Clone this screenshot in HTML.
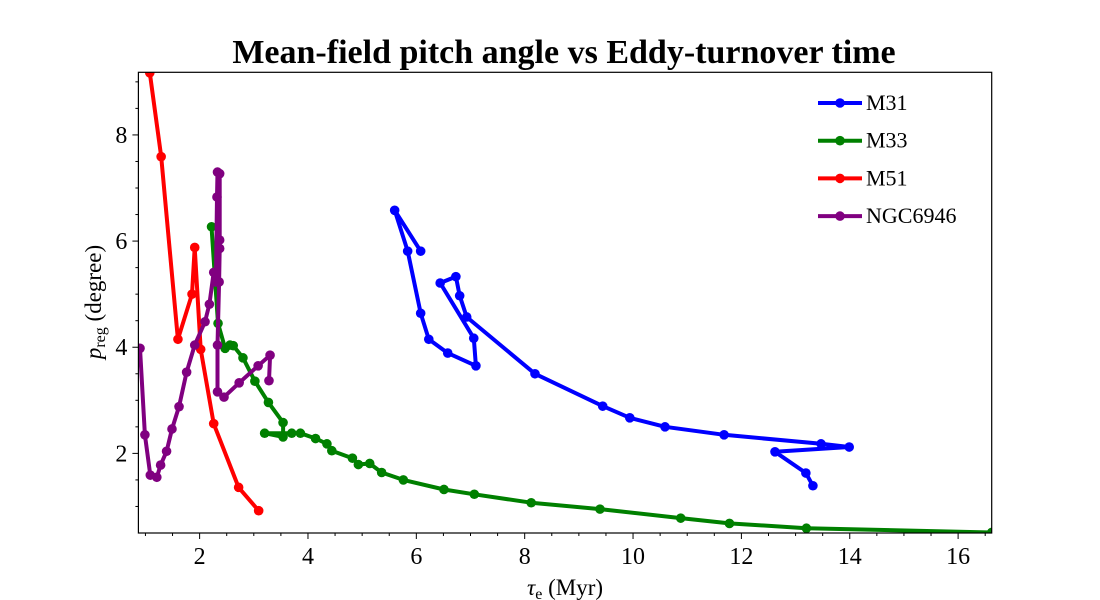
<!DOCTYPE html>
<html><head><meta charset="utf-8"><style>
html,body{margin:0;padding:0;background:#fff;}
svg{display:block;font-family:"Liberation Serif",serif;}
</style></head><body>
<svg id="chart" width="1100" height="600">
<text x="564" y="63" text-anchor="middle" font-size="34" font-weight="bold">Mean-field pitch angle vs Eddy-turnover time</text>
<g id="plot"></g>
<g id="axes"></g>
<text x="565" y="595" text-anchor="middle" font-size="23"><tspan font-style="italic">τ</tspan><tspan font-size="16" dy="4">e</tspan><tspan dy="-4"> (Myr)</tspan></text>
<text transform="translate(101,302) rotate(-90)" text-anchor="middle" font-size="23"><tspan font-style="italic">p</tspan><tspan font-size="16" dy="4">reg</tspan><tspan dy="-4"> (degree)</tspan></text>
<g id="legend"></g>
</svg>
<script>
const xTicks=[2,4,6,8,10,12,14,16];
const yTicks=[2,4,6,8];
const seriesNames=["M31","M33","M51","NGC6946"];
const seriesColors=["#0000ff","#008000","#ff0000","#800080"];
const m31X=[6.08,5.60,5.84,6.08,6.23,6.58,7.10,7.06,6.44,6.73,6.80,6.93,8.19,9.44,9.94,10.59,11.68,13.47,13.99,12.62,13.19,13.32];
const m31Y=[5.81,6.58,5.81,4.64,4.15,3.89,3.65,4.17,5.21,5.33,4.97,4.57,3.50,2.89,2.67,2.50,2.35,2.18,2.12,2.03,1.63,1.39];
const m33X=[2.22,2.34,2.47,2.56,2.62,2.80,3.02,3.27,3.54,3.54,3.20,3.70,3.86,4.14,4.35,4.44,4.82,4.93,5.14,5.36,5.76,6.51,7.07,8.12,9.39,10.88,11.78,13.20,16.62];
const m33Y=[6.27,4.45,3.98,4.04,4.03,3.80,3.36,2.96,2.58,2.31,2.38,2.38,2.38,2.28,2.18,2.05,1.91,1.79,1.81,1.64,1.50,1.32,1.23,1.07,0.95,0.78,0.68,0.59,0.51];
const m51X=[1.08,1.29,1.60,1.86,1.91,2.02,2.26,2.72,3.09];
const m51Y=[9.17,7.59,4.15,5.00,5.88,3.96,2.56,1.36,0.92];
const ngcX=[0.90,0.99,1.09,1.21,1.28,1.39,1.49,1.62,1.76,1.91,2.10,2.18,2.26,2.30,2.32,2.33,2.37,2.37,2.37,2.36,2.33,2.33,2.45,2.73,3.08,3.30,3.28];
const ngcY=[3.98,2.35,1.59,1.55,1.78,2.04,2.46,2.88,3.53,4.04,4.48,4.81,5.41,5.23,6.83,7.30,7.27,6.02,5.86,5.23,4.04,3.16,3.06,3.33,3.65,3.85,3.37];

const X0=138.4,X1=991.7,Y0=533,Y1=72.3,xmin=0.87,xmax=16.62,ymin=0.5,ymax=9.18;
const sx=v=>X0+(v-xmin)/(xmax-xmin)*(X1-X0);
const sy=v=>Y0-(v-ymin)/(ymax-ymin)*(Y0-Y1);
const NS="http://www.w3.org/2000/svg";
function mk(tag,attrs,parent){const e=document.createElementNS(NS,tag);for(const k in attrs)e.setAttribute(k,attrs[k]);parent.appendChild(e);return e;}
const svg=document.getElementById('chart');
const plot=document.getElementById('plot');
const axes=document.getElementById('axes');
const legend=document.getElementById('legend');
const defs=mk('defs',{},svg);
const cp=mk('clipPath',{id:'clip'},defs);
mk('rect',{x:X0,y:Y1,width:X1-X0,height:Y0-Y1},cp);
plot.setAttribute('clip-path','url(#clip)');
const allX=[m31X,m33X,m51X,ngcX],allY=[m31Y,m33Y,m51Y,ngcY];
for(let s=0;s<4;s++){
  const g=mk('g',{},plot);
  
  
  const pts=allX[s].map((x,i)=>sx(x).toFixed(1)+','+sy(allY[s][i]).toFixed(1)).join(' ');
  const pl=mk('polyline',{points:pts,fill:'none',stroke:seriesColors[s],'stroke-width':4,'stroke-linejoin':'round'},g);
  
  
  allX[s].forEach((x,i)=>{
    const c=mk('circle',{cx:sx(x),cy:sy(allY[s][i]),r:4.8,fill:seriesColors[s]},g);
    
    
  });
}
const frame=mk('rect',{x:X0,y:Y1,width:X1-X0,height:Y0-Y1,fill:'none',stroke:'#000','stroke-width':1.2},axes);


for(let v=1;v<=16.6;v+=0.5){
  const major=xTicks.includes(v);
  const t=mk('line',{x1:sx(v),x2:sx(v),y1:Y0,y2:Y0+(major?6:3),stroke:'#000','stroke-width':1},axes);
  
  
}
xTicks.forEach(v=>{
  const t=mk('text',{x:sx(v),y:Y0+31,'text-anchor':'middle','font-size':24},axes);
  t.textContent=v;
  
  
});
for(let v=1;v<=9;v+=0.5){
  const major=yTicks.includes(v);
  const t=mk('line',{x1:X0,x2:X0-(major?6:3),y1:sy(v),y2:sy(v),stroke:'#000','stroke-width':1},axes);
  
  
}
yTicks.forEach(v=>{
  const t=mk('text',{x:X0-11,y:sy(v)+8,'text-anchor':'end','font-size':24},axes);
  t.textContent=v;
  
  
});
seriesNames.forEach((n,i)=>{
  const y=103+i*37.7;
  const g=mk('g',{},legend);
  
  
  mk('line',{x1:818,x2:862,y1:y,y2:y,stroke:seriesColors[i],'stroke-width':4},g);
  mk('circle',{cx:840,cy:y,r:4.8,fill:seriesColors[i]},g);
  const t=mk('text',{x:866,y:y+7,'font-size':22},g);
  t.textContent=n;
});
</script>
</body></html>
